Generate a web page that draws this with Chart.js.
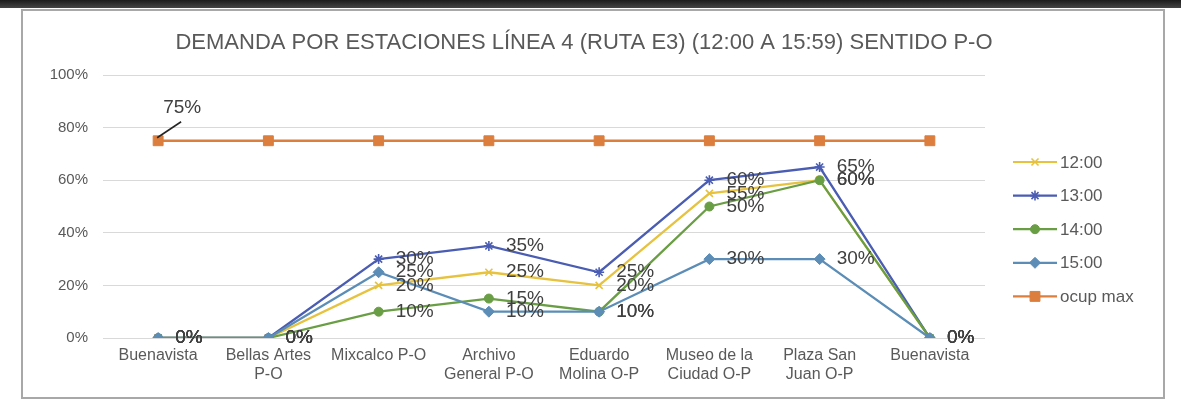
<!DOCTYPE html>
<html>
<head>
<meta charset="utf-8">
<script src="https://cdn.jsdelivr.net/npm/chart.js@4.4.1/dist/chart.umd.min.js"></script>
<style>
  html, body { margin: 0; padding: 0; background: #fff; }
  body { width: 1181px; height: 403px; position: relative; overflow: hidden; }
  #topbar { position: absolute; left: 0; top: 0; width: 1181px; height: 8px;
            background: linear-gradient(#1c1c1c, #454545); }
  #frame { position: absolute; left: 21px; top: 9px; width: 1144px; height: 390px;
           border: 2px solid #a8a8a8; box-sizing: border-box; }
  #wrap { position: absolute; left: 0; top: 0; width: 1181px; height: 403px; }
</style>
</head>
<body>
<div id="topbar"></div>
<div id="frame"></div>
<div id="wrap"><canvas id="chart" width="1181" height="403"></canvas></div>
<script>
// Stations along the route (multi-line labels)
const stations = [
  ["Buenavista"],
  ["Bellas Artes", "P-O"],
  ["Mixcalco P-O"],
  ["Archivo", "General P-O"],
  ["Eduardo", "Molina O-P"],
  ["Museo de la", "Ciudad O-P"],
  ["Plaza San", "Juan O-P"],
  ["Buenavista"]
];

// Occupancy per hour (%)
const h1200 = [0, 0, 20, 25, 20, 55, 60, 0];
const h1300 = [0, 0, 30, 35, 25, 60, 65, 0];
const h1400 = [0, 0, 10, 15, 10, 50, 60, 0];
const h1500 = [0, 0, 25, 10, 10, 30, 30, 0];
const ocupMax = [75, 75, 75, 75, 75, 75, 75, 75];

const chartTitle = "DEMANDA POR ESTACIONES LÍNEA 4 (RUTA E3) (12:00 A 15:59) SENTIDO P-O";

const FONT = '"Liberation Sans", Arial, sans-serif';
const TEXT_GRAY = '#595959';

function series(label, data, color, style, radius, order) {
  return {
    label, data,
    borderColor: color,
    backgroundColor: color,
    borderWidth: 2.3,
    pointStyle: style,
    pointRadius: radius,
    pointBorderWidth: (style === 'crossRot' || style === 'star') ? 1.6 : 1,
    pointBackgroundColor: color,
    pointBorderColor: color,
    tension: 0,
    order
  };
}

const datasets = [
  series('12:00', h1200, '#E6C23E', 'crossRot', 5, 5),
  series('13:00', h1300, '#4A5DB3', 'star', 5, 4),
  series('14:00', h1400, '#6A9E45', 'circle', 4.5, 3),
  series('15:00', h1500, '#5B8DB7', 'rectRot', 5.5, 2),
  series('ocup max', ocupMax, '#DC7E3D', 'rect', 7, 1)
];

// Value labels to the right of each point; "ocup max" only labelled once with a leader line
const valueLabels = {
  id: 'valueLabels',
  afterDatasetsDraw(chart) {
    const ctx = chart.ctx;
    ctx.save();
    ctx.font = '19px ' + FONT;
    ctx.fillStyle = '#404040';
    ctx.textBaseline = 'middle';
    ctx.textAlign = 'left';
    chart.data.datasets.forEach((ds, di) => {
      const meta = chart.getDatasetMeta(di);
      meta.data.forEach((pt, i) => {
        const v = ds.data[i];
        if (ds.label === 'ocup max') {
          if (i !== 0) return;
          ctx.strokeStyle = '#262626';
          ctx.lineWidth = 1.6;
          ctx.beginPath();
          ctx.moveTo(pt.x - 1, pt.y - 3);
          ctx.lineTo(pt.x + 23, pt.y - 19);
          ctx.stroke();
          ctx.fillText(v + '%', pt.x + 5, pt.y - 33);
          return;
        }
        ctx.fillText(v + '%', pt.x + 17, pt.y);
      });
    });
    ctx.restore();
  }
};

// Title and legend drawn beside the plot
const decorations = {
  id: 'decorations',
  afterDraw(chart) {
    const ctx = chart.ctx;
    ctx.save();
    ctx.fillStyle = TEXT_GRAY;
    ctx.font = '22px ' + FONT;
    ctx.textAlign = 'center';
    ctx.textBaseline = 'middle';
    ctx.fillText(chartTitle, 584, 43);

    const x0 = 1013, x1 = 1057;
    ctx.font = '17px ' + FONT;
    ctx.textAlign = 'left';
    chart.data.datasets.forEach((ds, i) => {
      const y = 162 + i * 33.6;
      ctx.strokeStyle = ds.borderColor;
      ctx.fillStyle = ds.backgroundColor;
      ctx.lineWidth = 2.2;
      ctx.beginPath();
      ctx.moveTo(x0, y);
      ctx.lineTo(x1, y);
      ctx.stroke();
      ctx.lineWidth = ds.pointBorderWidth;
      Chart.helpers.drawPoint(ctx, {
        pointStyle: ds.pointStyle,
        radius: ds.pointRadius,
        rotation: 0,
        borderWidth: ds.pointBorderWidth
      }, (x0 + x1) / 2, y);
      ctx.fillStyle = TEXT_GRAY;
      ctx.fillText(ds.label, x1 + 3, y + 1);
    });
    ctx.restore();
  }
};

new Chart(document.getElementById('chart'), {
  type: 'line',
  data: { labels: stations, datasets },
  plugins: [valueLabels, decorations],
  options: {
    responsive: false,
    animation: false,
    devicePixelRatio: 1,
    layout: { padding: { left: 0, right: 196, top: 75, bottom: 0 } },
    plugins: {
      legend: { display: false },
      tooltip: { enabled: false },
      title: { display: false }
    },
    scales: {
      x: {
        offset: true,
        grid: { display: false, drawTicks: false },
        border: { display: false },
        ticks: {
          color: TEXT_GRAY,
          font: { family: FONT, size: 16 },
          padding: 8,
          maxRotation: 0,
          autoSkip: false
        },
        afterFit(scale) { scale.height = 65; }
      },
      y: {
        min: 0,
        max: 100,
        grid: { color: '#d9d9d9', lineWidth: 1, drawTicks: false },
        border: { display: false },
        ticks: {
          stepSize: 20,
          color: TEXT_GRAY,
          font: { family: FONT, size: 15 },
          padding: 15,
          callback: v => v + '%'
        },
        afterFit(scale) { scale.width = 103; }
      }
    }
  }
});
</script>
</body>
</html>
